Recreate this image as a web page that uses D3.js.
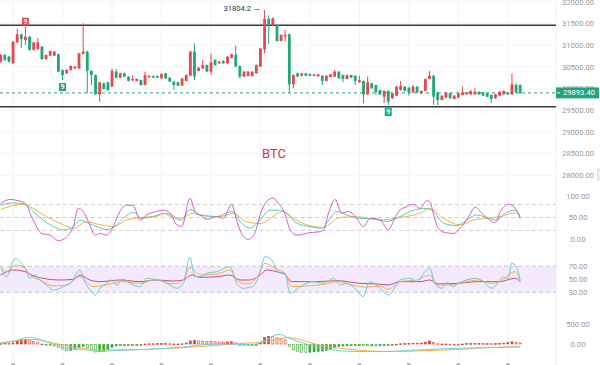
<!DOCTYPE html>
<html>
<head>
<meta charset="utf-8">
<script src="https://cdn.jsdelivr.net/npm/d3@7"></script>
<style>
  body { margin: 0; background: #fff; }
  svg { display: block; }
  text { font-family: Roboto, "Noto Sans", sans-serif; }
</style>
</head>
<body>
<svg id="chart"></svg>
<script>
// candles: [open, high, low, close], red = up, green = down
const candles = [
  [30615,30790,30590,30770],[30770,30790,30630,30655],[30730,30750,30590,30615],[30575,31090,30555,31075],
  [31060,31370,31045,31245],[31245,31260,30920,31135],[31115,31420,31000,31190],[31190,31205,30870,30885],
  [30885,31070,30870,31060],[30905,31155,30895,31060],[30960,30980,30650,30675],[30675,30780,30665,30770],
  [30755,30870,30745,30860],[30755,30860,30740,30845],[30785,30800,30370,30385],[30420,30430,30190,30305],
  [30345,30440,30330,30420],[30420,30530,30410,30515],[30460,30510,30450,30500],[30460,30820,30450,30805],
  [30790,31500,30780,30845],[30845,30870,29885,30400],[30400,30410,30075,30305],[30305,30320,29850,29860],
  [29860,30150,29690,30140],[30115,30130,29970,29985],[30140,30150,29950,29960],[30040,30460,30030,30400],
  [30385,30445,30235,30245],[30245,30360,30240,30345],[30345,30360,30260,30270],[30270,30280,30160,30170],
  [30185,30305,30155,30215],[30170,30230,30160,30215],[30190,30200,30060,30075],[30075,30385,30070,30305],
  [30255,30300,30245,30290],[30285,30295,30240,30245],[30285,30295,30240,30245],[30230,30345,30220,30330],
  [30345,30360,30220,30230],[30245,30255,30145,30155],[30155,30165,29960,30075],[30140,30150,30050,30060],
  [30060,30240,30050,30230],[30170,30320,30160,30305],[30290,30860,30280,30845],[30845,31035,30190,30270],
  [30400,30490,30390,30475],[30460,30655,30450,30535],[30535,30550,30370,30385],[30385,30805,30310,30600],
  [30655,30670,30525,30535],[30575,30630,30565,30615],[30630,30645,30565,30575],[30575,30745,30565,30730],
  [30705,30800,30695,30785],[30770,30985,30490,30500],[30515,30525,30230,30270],[30270,30395,30260,30385],
  [30285,30395,30275,30385],[30285,30395,30275,30385],[30345,30550,30335,30535],[30500,30935,30490,30920],
  [30900,31804.2,30805,31600],[31600,31680,31020,31450],[31460,31640,31440,31615],[31460,31480,31080,31090],
  [31090,31250,31080,31230],[31190,31345,31075,31230],[31245,31260,29885,30090],[30090,30320,30000,30305],
  [30345,30360,30260,30270],[30290,30355,30280,30345],[30345,30355,30280,30290],[30330,30340,30280,30290],
  [30285,30330,30275,30320],[30275,30330,30265,30320],[30290,30300,30075,30170],[30170,30300,30160,30290],
  [30260,30330,30250,30320],[30270,30420,30260,30385],[30385,30395,30220,30230],[30305,30315,30140,30215],
  [30215,30315,30205,30305],[30305,30315,30235,30245],[30290,30300,30075,30170],[30140,30290,30130,30190],
  [30170,30180,29655,29860],[29860,30270,29850,30140],[30115,30125,29990,30000],[30075,30085,29845,29920],
  [29960,29970,29850,29860],[29805,29950,29655,29940],[29940,29950,29615,29690],[29770,29895,29760,29885],
  [29830,30050,29820,30040],[29960,30170,29950,30055],[30040,30050,29930,29940],[30015,30025,29830,29905],
  [29905,30075,29895,30040],[30040,30050,29895,29905],[29885,29950,29875,29940],[29940,30225,29930,30215],
  [30215,30400,30205,30290],[30290,30300,29615,29805],[29905,29915,29615,29730],[29730,29840,29720,29830],
  [29785,29910,29775,29900],[29885,29895,29760,29770],[29755,29840,29745,29830],[29785,29895,29775,29885],
  [29845,30040,29835,29905],[29860,29915,29850,29905],[29860,29950,29850,29940],[29860,30000,29850,29920],
  [29920,29930,29850,29860],[29905,29915,29820,29830],[29885,29895,29795,29805],[29845,29855,29655,29755],
  [29770,29870,29760,29860],[29830,29930,29820,29920],[29860,29950,29850,29940],[29905,29915,29850,29860],
  [29860,30345,29850,30090],[30075,30115,29895,29905],[30075,30090,29870,29893.4]
];

const lastPrice = 29893.4;
const levels = [31455, 29575];
const nineUp = [6];
const nineDown = [15, 94];

// KDJ, [candle index, value]
const kLine = [[0,79],[3.1,84],[5.5,82],[7.9,64],[10.3,44],[12.8,29],[15.2,21],[17.2,25],[19.2,44],[21.2,37],
  [23.3,29],[25.7,22],[27.7,29],[29.7,48],[32.2,62],[34.2,48],[37,52],[39.4,60],[41.8,50],[43.9,44],[45.9,69],
  [48.3,56],[52.4,52],[56,64],[58.4,37],[60.5,25],[62.9,44],[65.3,67],[67.7,67],[69.3,60],[71.8,37],[75,29],
  [77.8,25],[79.9,48],[81.5,64],[83.9,56],[87.1,48],[90.4,48],[93.6,41],[96.8,52],[100.1,67],[103.3,71],
  [104.9,64],[107.4,37],[110.6,31],[113,44],[115.4,56],[117.9,50],[120.3,44],[122.7,62],[124.7,67],[126,52]];
const dLine = [[0,69],[5.5,81],[7.9,71],[11.1,52],[15.2,33],[17.6,25],[20.8,40],[24.1,33],[27.3,29],[30.5,44],
  [33.8,50],[37.8,53],[40.2,60],[43.5,48],[46.7,60],[48.3,56],[53.2,52],[56.4,60],[59.6,40],[62.9,36],[68.5,64],
  [71,48],[75.8,29],[78.2,27],[82.3,50],[86.3,52],[92,44],[96.8,50],[101.7,60],[104.1,71],[107.4,48],[111.4,33],
  [114.6,44],[117.9,48],[121.1,52],[124.7,61],[126,56]];
const jLine = [[0,83],[2.3,92],[4.3,89],[5.9,83],[7.9,44],[9.9,13],[12,9],[14,-4],[16,5],[17.6,29],[18.8,71],
  [20,64],[21.3,40],[22.9,9],[24.1,13],[25.7,9],[27.3,29],[28.9,64],[30.5,79],[32.2,77],[33.8,44],[35.4,56],
  [37.8,64],[39.5,67],[41.1,60],[42.7,33],[43.9,29],[45.9,95],[47.1,64],[48.3,56],[50,46],[52.4,52],[54,48],
  [56,81],[57.2,44],[58.4,13],[60,-1],[61.6,13],[63.3,67],[64.9,91],[66.1,95],[67.3,83],[68.9,60],[70.2,21],
  [71.8,9],[73.4,11],[75,15],[76.7,16],[78.3,21],[79.5,60],[81.1,92],[82.7,60],[84.3,64],[86,52],[88,29],
  [89.6,48],[92,44],[94,22],[96,56],[96.8,67],[98.5,75],[100.1,81],[101.7,71],[103.3,89],[104.1,87],[104.9,60],
  [106.1,25],[107.8,15],[109.8,13],[111.8,29],[113.5,52],[115.1,74],[116.7,60],[118.3,46],[119.9,38],[121.2,64],
  [123.2,81],[124.8,71],[126,48]];

// RSI
const rsi6 = [[0,68.4],[1.4,54],[3.5,82.3],[4.7,77.1],[5.9,66.9],[7.1,51.5],[8.3,56.6],[9.5,48.9],[11.1,41.3],
  [12.8,33.6],[15.2,38.7],[17.2,46.4],[19.2,64.3],[20.4,46.4],[22,31],[22.9,25.8],[24.1,36.2],[25.7,43.8],
  [26.9,48.9],[28.1,41.3],[29.7,50],[32.2,41.3],[33.8,38.7],[35.4,51.5],[37.8,48.9],[39.4,46.4],[41,41.3],
  [42.7,36.2],[44.3,43.8],[45.9,83.8],[47.1,54],[48.3,54],[50,59.2],[52.4,61.7],[55.6,69.4],[57.2,43.8],
  [58.8,36.2],[61.3,39.8],[62.9,61.7],[64.1,84.8],[65.7,79.7],[67.3,61.7],[68.9,59.2],[70.2,28.4],[72.6,38.7],
  [75.8,46.4],[78.2,43.8],[80.7,51.5],[82.3,41.3],[83.9,43.8],[86.3,33.6],[87.9,23.3],[89.5,46.4],[92,36.2],
  [94,25.8],[96,41.3],[96.9,48.9],[99.3,51.5],[100.9,46.4],[102.9,61.7],[104.1,66.9],[105.3,43.8],[107,36.2],
  [108.2,44.8],[109.8,38.7],[111,43.8],[113,48.9],[115.4,51.5],[117.5,43.8],[119.1,36.2],[121.1,48.9],[121.9,54],
  [123.1,51.5],[123.9,74.6],[125.1,69.4],[126,46.4]];
const rsi12 = [[0,68.4],[1.4,61.7],[3.5,72],[5.9,66.9],[7.5,54],[9.5,48.9],[12.8,39.8],[16,41.3],[19.2,54],
  [22.4,38.7],[25.7,41.3],[28.9,46.4],[33.8,43.8],[37.8,50],[41.8,42.9],[44.3,48.9],[45.9,68.4],[48.3,56.6],
  [52.4,58.2],[55.6,64.3],[57.6,46.4],[60.1,42.9],[62.5,56.6],[64.1,74.6],[66.5,66.9],[68.9,59.2],[70.6,38.7],
  [74.2,39.8],[79,42.9],[81.5,46.4],[86.3,39.8],[88.7,37.7],[92,39.8],[94,34.6],[96.8,46.4],[100.9,48.9],
  [104.1,56.6],[105.7,41.3],[109,41.3],[113,46.4],[116.2,48.9],[118.7,43.8],[121.1,46.4],[124.7,61.7],[126,48.9]];
const rsi24 = [[0,56.6],[3.1,64.3],[5.9,61.7],[7.9,55.1],[10.3,51.5],[14.4,48.9],[17.6,50],[19.2,56.6],[21.6,48.9],
  [24.1,46.4],[28.9,48.9],[33.8,46.4],[37.8,48.9],[41.8,47.4],[44.3,48.9],[46.3,56.6],[48.3,53],[52.4,54],
  [55.6,56.6],[58,48.9],[60.5,48.9],[62.9,56.6],[64.5,64.3],[67.7,60.2],[68.9,57.6],[70.6,46.4],[76.6,46.4],
  [81.5,47.9],[87.1,43.8],[91.2,42.9],[94,41.3],[96.8,46.4],[101.7,46.4],[104.1,48.9],[106.1,42.9],[110.6,43.8],
  [116.2,46.4],[121.1,46.4],[124.7,51.5],[126,46.4]];

// MACD
const macdHist = [30,35,30,45, 100,125,130, 105,85,60,15, -25,-35,-50, -90,-140,-170,-160,-130, -100,-60,
  -90,-150,-200, -195,-180,-140,-80,-50, -40,-35,-30,-25,-20,-15, 15,20,20,25,25,25,20,15,15,20,
  40,90,100,95,85,80,75,70,65,60,65,70,40, -20,-30,-35,-25,-10, 60,180,210,200,170,150,120,
  -60,-150,-190, -210,-215,-205,-195,-185,-175,-160,-140,-100,
  -60,-50,-45,-40,-40,-35,-40,-45,-45,-50,-45,-40,-35,-20,
  10,20,25,30,35,35,40,60,90,50,20,15,15,10,5,-10,
  15,25,25,30,30,25,25,20,25,30,35,50,70,55,40];
const dif = [[0,41],[3.5,90],[7,175],[10,100],[13,-10],[16,-100],[20,-130],[24,-180],[27,-160],[32,-140],
  [38.5,-110],[45,-60],[49,-10],[56,10],[61,-10],[64.5,120],[67.5,250],[70,150],[72.5,60],[76.5,-60],[80.5,-140],
  [87,-180],[95,-180],[99,-150],[103,-130],[110.5,-100],[118,-85],[126,-60]];
const dea = [[0,25],[8,120],[13,25],[20,-100],[26.5,-140],[36,-125],[48,-60],[58,20],[64.5,60],[69.5,170],
  [72.5,120],[76.5,0],[84.5,-125],[93.5,-180],[103,-160],[111.5,-125],[118,-85],[126,-60]];

const priceTicks = [28000, 28500, 29000, 29500, 30000, 30500, 31000, 31500, 32000];
const kdjTicks = [0, 50, 100];
const kdjGuides = [80, 50, 20];
const rsiTicks = [30, 50, 70];
const macdTicks = [0, 500];
const timeTicks = [3, 15, 27, 39, 51, 63, 75, 87, 99, 111, 123];

const W = 600, H = 365, plotRight = 556, axisX = 578;
const UP = '#e8474f', DOWN = '#1fa67a';

const svg = d3.select('#chart').attr('width', W).attr('height', H);

const x = d3.scaleLinear().domain([0, candles.length - 1]).range([0.7, 520.2]);
const yPrice = d3.scaleLinear().domain([28000, 32000]).range([175, 1.6]);
const yKdj = d3.scaleLinear().domain([0, 100]).range([239, 196]);
const yRsi = d3.scaleLinear().domain([30, 70]).range([292.3, 266.3]);
const yMacd = d3.scaleLinear().domain([0, 500]).range([344.3, 324.3]);

// grid
const grid = svg.append('g');
grid.selectAll('.vgrid').data(timeTicks).join('line')
    .attr('x1', d => x(d)).attr('x2', d => x(d))
    .attr('y1', 0).attr('y2', 360)
    .attr('stroke', '#f2f3f5');
grid.selectAll('.hgrid').data(priceTicks).join('line')
    .attr('x1', 0).attr('x2', plotRight)
    .attr('y1', d => yPrice(d)).attr('y2', d => yPrice(d))
    .attr('stroke', '#f4f5f7');
grid.append('line')
    .attr('x1', plotRight).attr('x2', plotRight).attr('y1', 0).attr('y2', H)
    .attr('stroke', '#f0f0f0');

// RSI band
svg.append('rect')
    .attr('x', 0).attr('y', yRsi(70))
    .attr('width', plotRight).attr('height', yRsi(30) - yRsi(70))
    .attr('fill', '#f5eafd');
svg.selectAll('.rsiGuide').data([70, 30]).join('line')
    .attr('x1', 0).attr('x2', plotRight)
    .attr('y1', d => yRsi(d)).attr('y2', d => yRsi(d))
    .attr('stroke', '#c9c9c9').attr('stroke-dasharray', '4,3');

// KDJ guides
svg.selectAll('.kdjGuide').data(kdjGuides).join('line')
    .attr('x1', 0).attr('x2', plotRight)
    .attr('y1', d => yKdj(d)).attr('y2', d => yKdj(d))
    .attr('stroke', '#cfcfcf').attr('stroke-dasharray', '4,3');

// support / resistance
svg.selectAll('.level').data(levels).join('line')
    .attr('x1', 0).attr('x2', plotRight)
    .attr('y1', d => yPrice(d)).attr('y2', d => yPrice(d))
    .attr('stroke', '#3a3a3a').attr('stroke-width', 1.5);

// last price dashed line
svg.append('line')
    .attr('x1', 0).attr('x2', plotRight)
    .attr('y1', yPrice(lastPrice)).attr('y2', yPrice(lastPrice))
    .attr('stroke', DOWN).attr('stroke-dasharray', '3,3');

// candles
const bw = 2.8;
const cg = svg.append('g').selectAll('g').data(candles).join('g')
    .attr('fill', d => d[3] >= d[0] ? UP : DOWN)
    .attr('stroke', d => d[3] >= d[0] ? UP : DOWN);
cg.append('line')
    .attr('x1', (d, i) => x(i)).attr('x2', (d, i) => x(i))
    .attr('y1', d => yPrice(d[1])).attr('y2', d => yPrice(d[2]))
    .attr('stroke-width', 1);
cg.append('rect')
    .attr('x', (d, i) => x(i) - bw / 2)
    .attr('y', d => yPrice(Math.max(d[0], d[3])))
    .attr('width', bw)
    .attr('height', d => Math.max(1, Math.abs(yPrice(d[0]) - yPrice(d[3]))))
    .attr('stroke', 'none');

// TD "9" markers
function nine(idx, up) {
  const d = candles[idx];
  const cx = x(idx);
  const top = up ? yPrice(d[1]) - 9 : yPrice(d[2]) + 3;
  svg.append('rect').attr('x', cx - 3.5).attr('y', top).attr('width', 7).attr('height', 8)
      .attr('fill', up ? UP : DOWN);
  svg.append('text').attr('x', cx).attr('y', top + 4.3)
      .attr('text-anchor', 'middle').attr('dominant-baseline', 'middle')
      .attr('font-size', 7).attr('font-weight', 'bold').attr('fill', '#fff').text('9');
}
nineUp.forEach(i => nine(i, true));
nineDown.forEach(i => nine(i, false));

// highest price label
const hiIdx = d3.maxIndex(candles, d => d[1]);
svg.append('text')
    .attr('x', x(hiIdx) - 4).attr('y', yPrice(candles[hiIdx][1]) - 1)
    .attr('text-anchor', 'end').attr('dominant-baseline', 'middle')
    .attr('font-size', 7.6).attr('fill', '#333')
    .text(`${candles[hiIdx][1]} →`);

// title
svg.append('text')
    .attr('x', 274).attr('y', 158)
    .attr('text-anchor', 'middle')
    .attr('font-size', 13).attr('fill', '#d9322b')
    .text('BTC');

// indicator lines
function drawLine(data, yScale, color) {
  svg.append('path').datum(data)
      .attr('fill', 'none').attr('stroke', color).attr('stroke-width', 1)
      .attr('d', d3.line().x(d => x(d[0])).y(d => yScale(d[1])).curve(d3.curveMonotoneX));
}
drawLine(dLine, yKdj, '#f2b634');
drawLine(kLine, yKdj, '#52cbc2');
drawLine(jLine, yKdj, '#d65bd0');

drawLine(rsi24, yRsi, '#cc4a8c');
drawLine(rsi12, yRsi, '#f5b23c');
drawLine(rsi6, yRsi, '#5fcfd0');

// MACD histogram: filled when rising, hollow when falling
const hw = 2.6;
svg.append('g').selectAll('rect').data(macdHist).join('rect')
    .attr('x', (d, i) => x(i) - hw / 2 + 0.3)
    .attr('y', d => Math.min(yMacd(d), yMacd(0)) + 0.3)
    .attr('width', hw - 0.6)
    .attr('height', d => Math.max(0.8, Math.abs(yMacd(d) - yMacd(0)) - 0.6))
    .attr('stroke', d => d >= 0 ? '#e23b3b' : '#38a832')
    .attr('stroke-width', 0.6)
    .attr('fill', (d, i) => (i === 0 || d >= macdHist[i - 1]) ? (d >= 0 ? '#e23b3b' : '#38a832') : '#fff');

drawLine(dea, yMacd, '#f5b23c');
drawLine(dif, yMacd, '#6fd3d8');

// right axes
function rightAxis(scale, ticks) {
  const g = svg.append('g')
      .attr('transform', `translate(${axisX},0)`)
      .call(d3.axisRight(scale).tickValues(ticks).tickSize(0).tickPadding(0).tickFormat(d3.format('.2f')));
  g.select('.domain').remove();
  g.selectAll('text')
      .attr('text-anchor', 'middle')
      .attr('fill', '#999')
      .attr('font-size', 7.6)
      .attr('font-family', 'Roboto, "Noto Sans", sans-serif');
}
rightAxis(yPrice, priceTicks);
rightAxis(yKdj, kdjTicks);
rightAxis(yRsi, rsiTicks);
rightAxis(yMacd, macdTicks);

// last price tag
const ly = yPrice(lastPrice);
svg.append('rect').attr('x', 556).attr('y', ly - 5.5).attr('width', 43).attr('height', 11).attr('fill', DOWN);
svg.append('line').attr('x1', 557).attr('x2', 560).attr('y1', ly).attr('y2', ly).attr('stroke', '#fff');
svg.append('text').attr('x', axisX + 1).attr('y', ly)
    .attr('text-anchor', 'middle').attr('dominant-baseline', 'middle')
    .attr('font-size', 7.6).attr('fill', '#fff')
    .text(d3.format('.2f')(lastPrice));

// scrollbar stub
svg.append('rect').attr('x', 597.5).attr('y', 169).attr('width', 3).attr('height', 11)
    .attr('fill', '#eee').attr('stroke', '#c8c8c8').attr('stroke-width', 0.6);

// time ticks at the bottom
svg.selectAll('.tt').data(timeTicks).join('rect')
    .attr('x', d => x(d) - 1.8).attr('y', 363.3)
    .attr('width', 3.6).attr('height', 1.7)
    .attr('fill', '#aaa');
</script>
</body>
</html>
